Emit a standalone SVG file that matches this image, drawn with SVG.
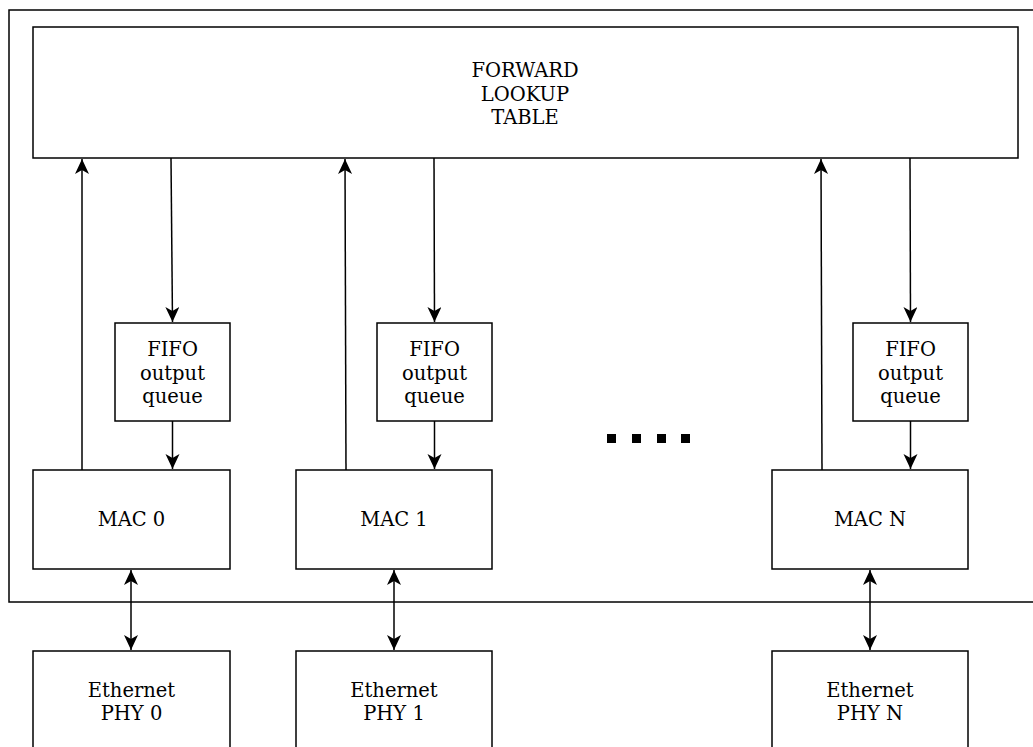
<svg xmlns="http://www.w3.org/2000/svg" width="1033" height="747" viewBox="0 0 1033 747">
  <style>
    .box { fill: #ffffff; stroke: #000000; stroke-width: 1.5; }
    .frame { fill: none; stroke: #000000; stroke-width: 1.5; }
    .edge { fill: none; stroke: #000000; stroke-width: 1.5; }
    .lbl { font-family: "DejaVu Serif", serif; font-size: 19.5px; fill: #000000; text-anchor: middle; }
    .dot { fill: #000000; }
  </style>
  <defs>
    <marker id="arrowEnd" markerUnits="userSpaceOnUse" markerWidth="17" markerHeight="15" refX="15" refY="7" orient="auto">
      <path d="M15,7 L0,0 L4,7 L0,14 Z" fill="#000000"/>
    </marker>
    <marker id="arrowStart" markerUnits="userSpaceOnUse" markerWidth="17" markerHeight="15" refX="0" refY="7" orient="auto">
      <path d="M0,7 L15,0 L11,7 L15,14 Z" fill="#000000"/>
    </marker>
  </defs>

  <rect width="1033" height="747" fill="#ffffff"/>

  <!-- switch enclosure -->
  <rect class="frame" x="9" y="10" width="1040" height="592"/>

  <g id="lookup-table">
    <rect class="box" x="33" y="27" width="985" height="131"/>
    <text class="lbl" x="525" y="77">FORWARD</text>
    <text class="lbl" x="525" y="100.5">LOOKUP</text>
    <text class="lbl" x="525" y="124">TABLE</text>
  </g>

  <g id="fifo-0">
    <rect class="box" x="115" y="323" width="115" height="98"/>
    <text class="lbl" x="172.5" y="356">FIFO</text>
    <text class="lbl" x="172.5" y="380">output</text>
    <text class="lbl" x="172.5" y="403">queue</text>
  </g>
  <g id="fifo-1">
    <rect class="box" x="377" y="323" width="115" height="98"/>
    <text class="lbl" x="434.5" y="356">FIFO</text>
    <text class="lbl" x="434.5" y="380">output</text>
    <text class="lbl" x="434.5" y="403">queue</text>
  </g>
  <g id="fifo-n">
    <rect class="box" x="853" y="323" width="115" height="98"/>
    <text class="lbl" x="910.5" y="356">FIFO</text>
    <text class="lbl" x="910.5" y="380">output</text>
    <text class="lbl" x="910.5" y="403">queue</text>
  </g>

  <g id="mac-0">
    <rect class="box" x="33" y="470" width="197" height="99"/>
    <text class="lbl" x="131.5" y="526">MAC 0</text>
  </g>
  <g id="mac-1">
    <rect class="box" x="296" y="470" width="196" height="99"/>
    <text class="lbl" x="394" y="526">MAC 1</text>
  </g>
  <g id="mac-n">
    <rect class="box" x="772" y="470" width="196" height="99"/>
    <text class="lbl" x="870" y="526">MAC N</text>
  </g>

  <g id="phy-0">
    <rect class="box" x="33" y="651" width="197" height="110"/>
    <text class="lbl" x="131.5" y="697">Ethernet</text>
    <text class="lbl" x="131.5" y="720">PHY 0</text>
  </g>
  <g id="phy-1">
    <rect class="box" x="296" y="651" width="196" height="110"/>
    <text class="lbl" x="394" y="697">Ethernet</text>
    <text class="lbl" x="394" y="720">PHY 1</text>
  </g>
  <g id="phy-n">
    <rect class="box" x="772" y="651" width="196" height="110"/>
    <text class="lbl" x="870" y="697">Ethernet</text>
    <text class="lbl" x="870" y="720">PHY N</text>
  </g>

  <!-- ellipsis between port columns -->
  <g id="ellipsis">
    <rect class="dot" x="607" y="434" width="9" height="9"/>
    <rect class="dot" x="632" y="434" width="9" height="9"/>
    <rect class="dot" x="657" y="434" width="9" height="9"/>
    <rect class="dot" x="681" y="434" width="9" height="9"/>
  </g>

  <g id="connectors">
    <!-- MAC to lookup table -->
    <line class="edge" x1="82" y1="470" x2="82" y2="159" marker-end="url(#arrowEnd)"/>
    <line class="edge" x1="346" y1="470" x2="345" y2="159" marker-end="url(#arrowEnd)"/>
    <line class="edge" x1="822" y1="470" x2="821" y2="159" marker-end="url(#arrowEnd)"/>
    <!-- lookup table to FIFO -->
    <line class="edge" x1="171" y1="158" x2="172.5" y2="322" marker-end="url(#arrowEnd)"/>
    <line class="edge" x1="434" y1="158" x2="434.5" y2="322" marker-end="url(#arrowEnd)"/>
    <line class="edge" x1="910" y1="158" x2="910.5" y2="322" marker-end="url(#arrowEnd)"/>
    <!-- FIFO to MAC -->
    <line class="edge" x1="172.5" y1="421" x2="172.5" y2="469" marker-end="url(#arrowEnd)"/>
    <line class="edge" x1="434.5" y1="421" x2="434.5" y2="469" marker-end="url(#arrowEnd)"/>
    <line class="edge" x1="910.5" y1="421" x2="910.5" y2="469" marker-end="url(#arrowEnd)"/>
    <!-- MAC to PHY, both ways -->
    <line class="edge" x1="131" y1="570" x2="131" y2="650" marker-start="url(#arrowStart)" marker-end="url(#arrowEnd)"/>
    <line class="edge" x1="394" y1="570" x2="394" y2="650" marker-start="url(#arrowStart)" marker-end="url(#arrowEnd)"/>
    <line class="edge" x1="870" y1="570" x2="870" y2="650" marker-start="url(#arrowStart)" marker-end="url(#arrowEnd)"/>
  </g>
</svg>
